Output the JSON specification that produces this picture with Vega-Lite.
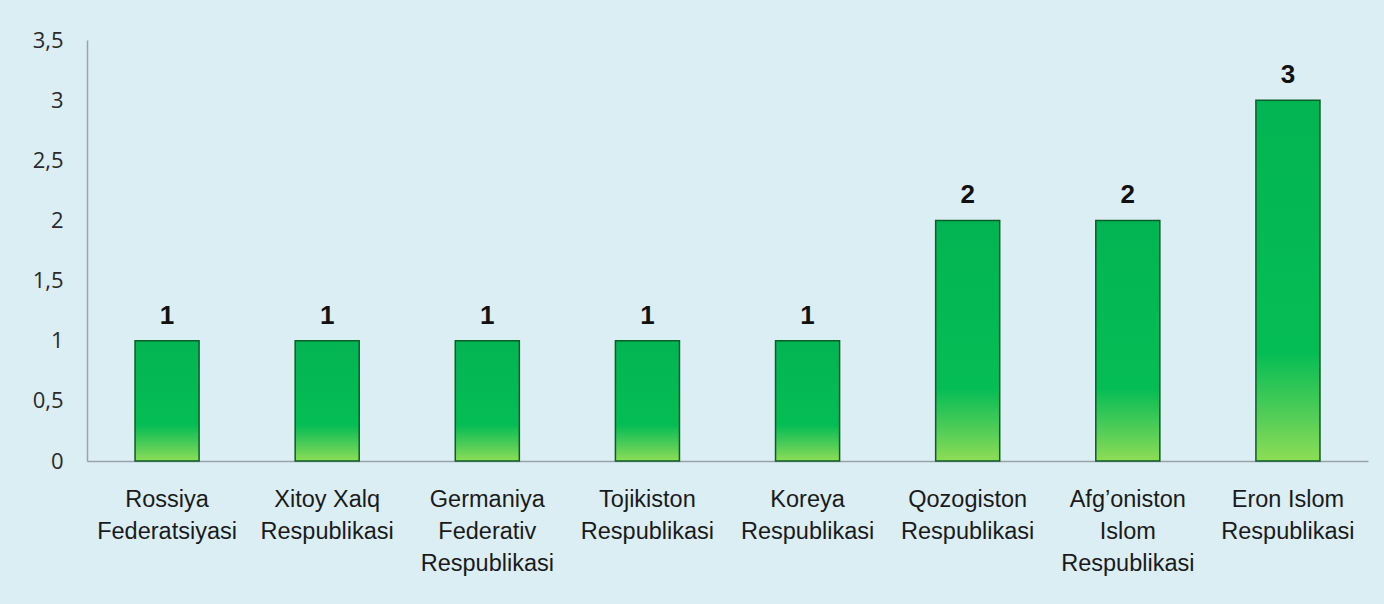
{
  "$schema": "https://vega.github.io/schema/vega-lite/v6.json",
  "autosize": {"type": "none"},
  "width": 1281,
  "height": 421,
  "padding": {"left": 87, "top": 40, "right": 16, "bottom": 143},
  "background": "#DBEEF4",
  "config": {"view": {"stroke": null}},
  "data": {
    "values": [
      {"country": "Rossiya|Federatsiyasi", "count": 1},
      {"country": "Xitoy Xalq|Respublikasi", "count": 1},
      {"country": "Germaniya|Federativ|Respublikasi", "count": 1},
      {"country": "Tojikiston|Respublikasi", "count": 1},
      {"country": "Koreya|Respublikasi", "count": 1},
      {"country": "Qozogiston|Respublikasi", "count": 2},
      {"country": "Afg’oniston|Islom|Respublikasi", "count": 2},
      {"country": "Eron Islom|Respublikasi", "count": 3}
    ]
  },
  "encoding": {
    "x": {
      "field": "country",
      "type": "nominal",
      "sort": null,
      "scale": {"paddingInner": 0.6, "paddingOuter": 0.3},
      "axis": {
        "title": null,
        "labelAngle": 0,
        "labelExpr": "split(datum.value, '|')",
        "labelFont": "Arial, Liberation Sans, sans-serif",
        "labelFontSize": 23.5,
        "labelLineHeight": 32,
        "labelColor": "#1a1a1a",
        "labelPadding": 26,
        "labelBaseline": "top",
        "labelLimit": 220,
        "labelOverlap": false,
        "ticks": false,
        "domainColor": "#9aa3a8",
        "domainWidth": 1.5
      }
    },
    "y": {
      "field": "count",
      "type": "quantitative",
      "scale": {"domain": [0, 3.5], "nice": false},
      "axis": {
        "title": null,
        "values": [0, 0.5, 1, 1.5, 2, 2.5, 3, 3.5],
        "labelExpr": "replace(format(datum.value, '.1~f'), '.', ',')",
        "labelFont": "Open Sans",
        "labelFontSize": 22,
        "labelColor": "#2a2a2a",
        "labelPadding": 24,
        "ticks": false,
        "grid": false,
        "domainColor": "#9aa3a8",
        "domainWidth": 1.5
      }
    }
  },
  "layer": [
    {
      "mark": {
        "type": "bar",
        "stroke": "#0b5e28",
        "strokeWidth": 1.5,
        "color": {
          "gradient": "linear",
          "x1": 0, "y1": 0, "x2": 0, "y2": 1,
          "stops": [
            {"offset": 0, "color": "#03B552"},
            {"offset": 0.7, "color": "#05BD55"},
            {"offset": 0.88, "color": "#55CE57"},
            {"offset": 1, "color": "#8EDD55"}
          ]
        }
      }
    },
    {
      "mark": {
        "type": "text",
        "baseline": "bottom",
        "dy": -12,
        "font": "Arial, Liberation Sans, sans-serif",
        "fontWeight": "bold",
        "fontSize": 26,
        "color": "#111111"
      },
      "encoding": {"text": {"field": "count", "type": "quantitative"}}
    }
  ]
}
